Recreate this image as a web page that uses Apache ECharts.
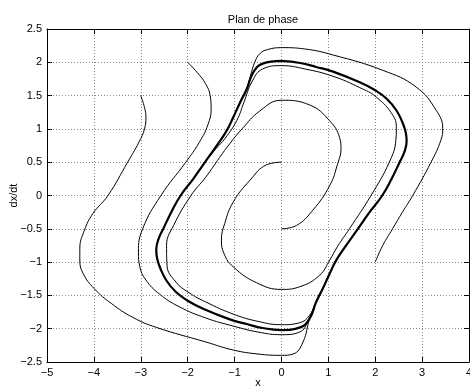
<!DOCTYPE html>
<html><head><meta charset="utf-8">
<script src="https://cdn.jsdelivr.net/npm/echarts@6/dist/echarts.min.js"></script>
<style>html,body{margin:0;padding:0;background:#fff}#c{width:470px;height:386px}</style>
</head><body><div id="c"></div>
<script>
const titleText = 'Plan de phase';
const xName = 'x';
const yName = 'dx/dt';
const xRange = [-5, 4];
const yRange = [-2.5, 2.5];

// limit cycle (thick)
const limitCycle = [
 [0,2.02],[0.4,1.99],[0.74,1.93],[1.1,1.86],[1.67,1.7],[2.0,1.58],[2.25,1.45],[2.45,1.28],[2.58,1.1],[2.65,0.95],[2.67,0.82],[2.62,0.65],[2.52,0.5],[2.35,0.25],[2.15,0],[1.88,-0.25],[1.63,-0.5],[1.38,-0.75],[1.17,-0.97],[1.03,-1.17],[0.88,-1.4],[0.74,-1.6],[0.6,-1.85],[0.4,-1.98],[0,-2.02],
 [-0.4,-1.99],[-0.74,-1.93],[-1.1,-1.86],[-1.67,-1.7],[-2.0,-1.58],[-2.25,-1.45],[-2.45,-1.28],[-2.58,-1.1],[-2.65,-0.95],[-2.67,-0.82],[-2.62,-0.65],[-2.52,-0.5],[-2.35,-0.25],[-2.15,0],[-1.88,0.25],[-1.63,0.5],[-1.38,0.75],[-1.17,0.97],[-1.03,1.17],[-0.88,1.4],[-0.74,1.6],[-0.6,1.85],[-0.4,1.98],[0,2.02]
];
// trajectory starting at (0, 0.5)
const curveA = [
 [0,0.5],[-0.32,0.46],[-0.67,0.23],[-1.03,-0.1],[-1.21,-0.42],[-1.28,-0.67],[-1.22,-0.88],[-1.03,-1.07],[-0.53,-1.31],[0,-1.41],[0.39,-1.37],[0.81,-1.2],[1.03,-0.97],[1.2,-0.76],[1.45,-0.5],[1.91,0],[2.3,0.5],[2.44,0.83],[2.45,1.0],[2.38,1.2],[2.02,1.48],[1.67,1.62],[1.1,1.79],[0.5,1.9],[0,1.95],[-0.4,1.9],[-0.62,1.72],[-0.8,1.4],[-0.95,1.13],[-1.2,0.86],[-1.4,0.7],[-1.63,0.5],[-1.88,0.25]
];
// trajectory starting at (0, -0.5)
const curveB = [
 [0,-0.5],[0.32,-0.45],[0.67,-0.22],[1.03,0.15],[1.2,0.48],[1.27,0.7],[1.24,0.87],[1.03,1.12],[0.6,1.36],[0,1.43],[-0.46,1.27],[-0.84,1.0],[-1.1,0.78],[-1.32,0.57],[-1.61,0.28],[-1.93,0],[-2.3,-0.45],[-2.45,-0.75],[-2.44,-1.05],[-2.25,-1.3],[-1.97,-1.46],[-1.61,-1.6],[-1.03,-1.78],[-0.5,-1.89],[0,-1.94],[0.39,-1.91],[0.6,-1.8],[0.74,-1.6],[0.88,-1.4],[1.03,-1.17]
];
// trajectory starting at (-2, 2)
const curveC = [
 [-2,2],[-1.8,1.85],[-1.62,1.68],[-1.52,1.5],[-1.5,1.3],[-1.57,1.06],[-1.75,0.8],[-2.04,0.5],[-2.57,0],[-2.96,-0.5],[-3.05,-0.85],[-3.02,-1.07],[-2.89,-1.27],[-2.6,-1.48],[-2.18,-1.67],[-1.61,-1.84],[-1.03,-1.96],[-0.5,-2.05],[0,-2.09],[0.39,-2.05],[0.57,-1.88],[0.74,-1.6],[0.88,-1.4],[1.03,-1.17]
];
// trajectory starting at (-3, 1.5)
const curveD = [
 [-3,1.5],[-2.92,1.32],[-2.89,1.18],[-2.92,1.0],[-3.04,0.8],[-3.28,0.5],[-3.7,0],[-4.02,-0.27],[-4.2,-0.52],[-4.3,-0.8],[-4.3,-0.97],[-4.23,-1.17],[-3.99,-1.4],[-3.63,-1.62],[-3.17,-1.83],[-2.67,-1.98],[-1.61,-2.2],[-1.03,-2.32],[-0.5,-2.38],[0,-2.4],[0.25,-2.38],[0.46,-2.2],[0.6,-1.85],[0.74,-1.6],[0.88,-1.4],[1.03,-1.17]
];
// trajectory starting at (2, -1)
const curveE = [
 [2,-1],[2.16,-0.75],[2.37,-0.5],[2.58,-0.25],[2.8,0],[3.19,0.5],[3.4,0.83],[3.44,1.0],[3.3,1.28],[2.87,1.63],[2.16,1.88],[1.1,2.11],[0.5,2.2],[0,2.22],[-0.3,2.19],[-0.46,2.13],[-0.57,2.0],[-0.66,1.8],[-0.74,1.6],[-0.88,1.4],[-1.03,1.17]
];

const fmt = v => String(v).replace('-', '\u2212');
const chart = echarts.init(document.getElementById('c'), null, {renderer: 'canvas'});
const font = 'Liberation Sans, Arial, Helvetica, sans-serif';
const thin = (d) => ({type:'line', data:d, showSymbol:false, smooth:0.45, lineStyle:{color:'#000', width:1}, xAxisIndex:0, yAxisIndex:0, silent:true, animation:false});
chart.setOption({
  animation: false,
  title: {text: titleText, left: 258, top: 9, textAlign: 'center', textStyle: {fontFamily: font, fontSize: 11, fontWeight: 'normal', color: '#000'}},
  grid: {left: 47, top: 29, right: 1, bottom: 24, show: false, containLabel: false, outerBoundsMode: 'none'},
  xAxis: [
    {type: 'value', min: xRange[0], max: xRange[1], interval: 1, position: 'bottom',
     name: xName, nameLocation: 'middle', nameGap: 15, nameMoveOverlap: false, nameTextStyle: {fontFamily: font, fontSize: 11, color: '#000'},
     axisLine: {show: true, onZero: false, lineStyle: {color: '#000', width: 1}},
     axisTick: {show: true, inside: true, length: 5, lineStyle: {color: '#000'}},
     axisLabel: {formatter: fmt, margin: 5, fontFamily: font, fontSize: 11, color: '#000', showMinLabel: true, showMaxLabel: true, hideOverlap: false},
     splitLine: {show: true, lineStyle: {color: '#888', type: [1, 2], width: 1}}},
    {type: 'value', min: xRange[0], max: xRange[1], interval: 1, position: 'top',
     axisLine: {show: true, onZero: false, lineStyle: {color: '#000', width: 1}},
     axisTick: {show: true, inside: true, length: 5, lineStyle: {color: '#000'}},
     axisLabel: {show: false}, splitLine: {show: false}}
  ],
  yAxis: [
    {type: 'value', min: yRange[0], max: yRange[1], interval: 0.5, position: 'left',
     name: yName, nameLocation: 'middle', nameGap: 28, nameMoveOverlap: false, nameRotate: 90, nameTextStyle: {fontFamily: font, fontSize: 11, color: '#000'},
     axisLine: {show: true, onZero: false, lineStyle: {color: '#000', width: 1}},
     axisTick: {show: true, inside: true, length: 5, lineStyle: {color: '#000'}},
     axisLabel: {formatter: fmt, margin: 5, fontFamily: font, fontSize: 11, color: '#000', showMinLabel: true, showMaxLabel: true},
     splitLine: {show: true, lineStyle: {color: '#888', type: [1, 2], width: 1}}},
    {type: 'value', min: yRange[0], max: yRange[1], interval: 0.5, position: 'right',
     axisLine: {show: true, onZero: false, lineStyle: {color: '#000', width: 1}},
     axisTick: {show: true, inside: true, length: 5, lineStyle: {color: '#000'}},
     axisLabel: {show: false}, splitLine: {show: false}}
  ],
  series: [
    thin(curveC), thin(curveD), thin(curveE), thin(curveA), thin(curveB),
    {type:'line', data: limitCycle, showSymbol:false, smooth:0.45, lineStyle:{color:'#000', width:2.2}, silent:true, animation:false}
  ]
});
</script></body></html>
